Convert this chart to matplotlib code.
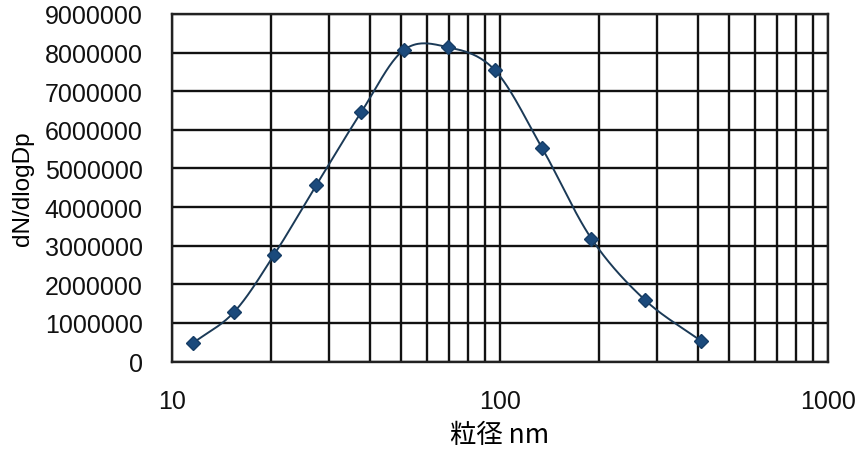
import numpy as np
import matplotlib
matplotlib.use("Agg")
import matplotlib.pyplot as plt
from matplotlib.ticker import LogLocator, FixedLocator, NullFormatter

plt.rcParams["font.family"] = ["Liberation Sans", "Noto Sans CJK JP", "DejaVu Sans"]

# particle size distribution
diameter_nm = [11.6, 15.5, 20.5, 27.5, 37.7, 50.8, 69.2, 96.5, 134.5, 190, 276, 410]
dn_dlogdp = [480000, 1290000, 2770000, 4560000, 6450000, 8060000,
             8140000, 7540000, 5520000, 3180000, 1600000, 530000]

y_ticks = [0, 1000000, 2000000, 3000000, 4000000, 5000000,
           6000000, 7000000, 8000000, 9000000]
x_ticks = [10, 100, 1000]


def smooth_curve(x, y, n=40):
    # Catmull-Rom through the points, in log-x space
    lx = np.log10(x)
    y = np.asarray(y, dtype=float)
    px = np.concatenate([[2 * lx[0] - lx[1]], lx, [2 * lx[-1] - lx[-2]]])
    py = np.concatenate([[2 * y[0] - y[1]], y, [2 * y[-1] - y[-2]]])
    xs, ys = [], []
    t = np.linspace(0, 1, n)
    for i in range(1, len(px) - 2):
        for p, out in ((px, xs), (py, ys)):
            p0, p1, p2, p3 = p[i - 1], p[i], p[i + 1], p[i + 2]
            out.extend(0.5 * ((2 * p1) + (-p0 + p2) * t
                              + (2 * p0 - 5 * p1 + 4 * p2 - p3) * t ** 2
                              + (-p0 + 3 * p1 - 3 * p2 + p3) * t ** 3))
    return 10 ** np.array(xs), np.array(ys)


fig = plt.figure(figsize=(8.61, 4.52), dpi=100)
ax = fig.add_axes([0.1998, 0.198, 0.7619, 0.769])

sx, sy = smooth_curve(diameter_nm, dn_dlogdp)
ax.plot(sx, sy, color="#1b3a57", lw=1.4, zorder=3)
ax.plot(diameter_nm, dn_dlogdp, ls="none", marker="D", ms=7,
        color="#1b4a7c", mec="#163d66", zorder=4)

ax.set_xscale("log")
ax.set_xlim(10, 1000)
ax.set_ylim(0, 9000000)
ax.xaxis.set_major_locator(FixedLocator(x_ticks))
ax.xaxis.set_minor_locator(LogLocator(base=10, subs=np.arange(2, 10)))
ax.xaxis.set_minor_formatter(NullFormatter())
ax.set_xticklabels([str(v) for v in x_ticks])
ax.yaxis.set_major_locator(FixedLocator(y_ticks))
ax.set_yticklabels([str(v) for v in y_ticks])

ax.grid(True, which="both", axis="x", color="#111111", lw=1.7)
ax.grid(True, which="major", axis="y", color="#111111", lw=1.7)
ax.set_axisbelow(True)
for s in ax.spines.values():
    s.set_color("#222222")
    s.set_linewidth(1.7)

ax.tick_params(axis="both", which="both", length=0, labelsize=18, colors="#111111")
ax.tick_params(axis="x", pad=20)
ax.tick_params(axis="y", pad=21)

ax.set_xlabel("粒径 nm", fontsize=19, family=["Noto Sans CJK JP", "DejaVu Sans"],
              va="center")
ax.xaxis.set_label_coords(0.5, -0.21)
ax.set_ylabel("dN/dlogDp", fontsize=17.5, labelpad=8)

fig.savefig("out.png", dpi=100)
